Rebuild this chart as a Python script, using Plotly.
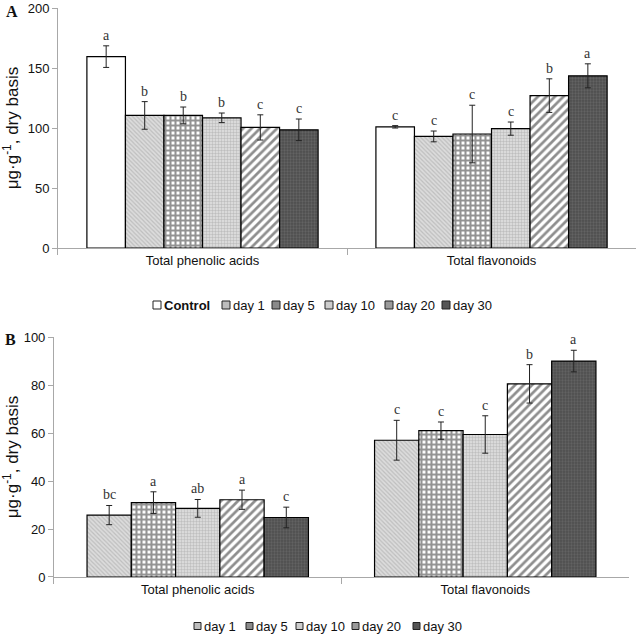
import plotly.graph_objects as go

# ---------------- data ----------------
categories = ["Total phenolic acids", "Total flavonoids"]

# Panel A
a_names = ["Control", "day 1", "day 5", "day 10", "day 20", "day 30"]
a_control = [159.5, 101.0]
a_control_err = [9.0, 1.0]
a_control_lbl = ["a", "c"]
a_day1 = [110.5, 93.0]
a_day1_err = [11.5, 4.5]
a_day1_lbl = ["b", "c"]
a_day5 = [110.5, 95.0]
a_day5_err = [7.0, 24.0]
a_day5_lbl = ["b", "c"]
a_day10 = [108.5, 99.5]
a_day10_err = [4.0, 5.5]
a_day10_lbl = ["b", "c"]
a_day20 = [100.5, 127.0]
a_day20_err = [10.5, 14.0]
a_day20_lbl = ["c", "b"]
a_day30 = [98.5, 143.5]
a_day30_err = [9.0, 10.0]
a_day30_lbl = ["c", "a"]

# Panel B
b_names = ["day 1", "day 5", "day 10", "day 20", "day 30"]
b_day1 = [25.8, 57.0]
b_day1_err = [4.0, 8.3]
b_day1_lbl = ["bc", "c"]
b_day5 = [31.0, 61.0]
b_day5_err = [4.5, 3.6]
b_day5_lbl = ["a", "c"]
b_day10 = [28.6, 59.4]
b_day10_err = [3.7, 7.8]
b_day10_lbl = ["ab", "c"]
b_day20 = [32.2, 80.5]
b_day20_err = [4.0, 8.0]
b_day20_lbl = ["a", "b"]
b_day30 = [24.8, 90.0]
b_day30_err = [4.3, 4.5]
b_day30_lbl = ["c", "a"]

a_vals = [a_control, a_day1, a_day5, a_day10, a_day20, a_day30]
a_errs = [a_control_err, a_day1_err, a_day5_err, a_day10_err, a_day20_err, a_day30_err]
a_lbls = [a_control_lbl, a_day1_lbl, a_day5_lbl, a_day10_lbl, a_day20_lbl, a_day30_lbl]
b_vals = [b_day1, b_day5, b_day10, b_day20, b_day30]
b_errs = [b_day1_err, b_day5_err, b_day10_err, b_day20_err, b_day30_err]
b_lbls = [b_day1_lbl, b_day5_lbl, b_day10_lbl, b_day20_lbl, b_day30_lbl]

# ---------------- styles ----------------
styles = {
    "Control": dict(shape="", bgcolor="white", fgcolor="white", size=6, solidity=0.3, swatch="white"),
    "day 1": dict(shape="\\", bgcolor="#dcdcdc", fgcolor="#a0a0a0", size=3, solidity=0.4, swatch="#bdbdbd"),
    "day 5": dict(shape="+", bgcolor="white", fgcolor="#262626", size=5, solidity=0.65, swatch="#8a8a8a"),
    "day 10": dict(shape=".", bgcolor="#e2e2e2", fgcolor="#9a9a9a", size=3, solidity=0.5, swatch="#cdcdcd"),
    "day 20": dict(shape="/", bgcolor="white", fgcolor="#1e1e1e", size=6, solidity=0.45, swatch="#9a9a9a"),
    "day 30": dict(shape=".", bgcolor="#4d4d4d", fgcolor="#7a7a7a", size=3, solidity=0.45, swatch="#555555"),
}

W, H = 638, 636
FONT = "Liberation Sans, Arial, sans-serif"
SERIF = "Liberation Serif, Times New Roman, serif"

fig = go.Figure()

A_GAP = 0.2
B_GAP = 0.23


def add_panel(names, vals, errs, lbls, xa, ya, gap):
    n = len(names)
    w = (1 - gap) / n
    for i in range(n):
        st = styles[names[i]]
        fig.add_trace(go.Bar(
            x=categories, y=vals[i], name=names[i],
            xaxis=xa, yaxis=ya, showlegend=False,
            width=w, offset=-(1 - gap) / 2 + i * w,
            marker=dict(color=st["bgcolor"],
                        line=dict(color="black", width=1.2),
                        pattern=dict(shape=st["shape"], bgcolor=st["bgcolor"],
                                     fgcolor=st["fgcolor"], size=st["size"],
                                     solidity=st["solidity"])),
            error_y=dict(type="data", array=errs[i], color="#222",
                         thickness=1, width=3),
        ))
        for c in range(len(categories)):
            xpos = c - (1 - gap) / 2 + (i + 0.5) * w
            fig.add_annotation(
                x=xpos, y=vals[i][c] + errs[i][c], xref=xa, yref=ya,
                text=lbls[i][c], showarrow=False, yanchor="bottom", yshift=1,
                font=dict(family=SERIF, size=14, color="#333"))


add_panel(a_names, a_vals, a_errs, a_lbls, "x", "y", A_GAP)
add_panel(b_names, b_vals, b_errs, b_lbls, "x2", "y2", B_GAP)


# ---------------- manual legends ----------------
def add_legend(names, xs_px, y_px, size, bold_first=False):
    for i, nm in enumerate(names):
        x0 = xs_px[i]
        fig.add_shape(type="rect", xref="paper", yref="paper",
                      x0=x0 / W, x1=(x0 + size) / W,
                      y0=1 - (y_px + size / 2) / H, y1=1 - (y_px - size / 2) / H,
                      line=dict(color="#222", width=1),
                      fillcolor=styles[nm]["swatch"])
        txt = "<b>%s</b>" % nm if (bold_first and i == 0) else nm
        fig.add_annotation(x=(x0 + size + 1) / W, y=1 - y_px / H, xref="paper", yref="paper",
                           text=txt, showarrow=False, xanchor="left", yanchor="middle",
                           font=dict(family=FONT, size=13, color="#111"))


legend_top_x = [153, 222, 272, 325, 385, 442]
legend_top_y = 305
legend_bot_x = [194, 246, 296, 352, 413]
legend_bot_y = 626
add_legend(a_names, legend_top_x, legend_top_y, 8, bold_first=True)
add_legend(b_names, legend_bot_x, legend_bot_y, 7)

axis_font = dict(family=FONT, size=13, color="#111")
ytitle = "μg·g<sup>-1</sup>, dry basis"

common_x = dict(type="category", showline=True, linecolor="#a8a8a8", linewidth=1,
                ticks="outside", tickson="boundaries", ticklen=6, tickcolor="#a8a8a8",
                tickfont=axis_font, showgrid=False, zeroline=False, fixedrange=True,
                automargin=False)
common_y = dict(showline=True, linecolor="#a8a8a8", linewidth=1, ticks="outside",
                ticklen=5, tickcolor="#a8a8a8", tickfont=axis_font, showgrid=False,
                zeroline=False, automargin=False, fixedrange=True,
                title=dict(text=ytitle, font=dict(family=FONT, size=17, color="#111"),
                           standoff=6))

fig.update_layout(
    width=W, height=H,
    margin=dict(l=0, r=0, t=0, b=0, autoexpand=False),
    paper_bgcolor="white", plot_bgcolor="white",
    barmode="overlay",
    showlegend=False,
    hovermode=False,
    xaxis=dict(domain=[0.0909, 0.9969], anchor="y", **common_x),
    yaxis=dict(domain=[0.610, 0.9874], anchor="x", range=[0, 200], dtick=50, **common_y),
    xaxis2=dict(domain=[0.0846, 0.9859], anchor="y2", **common_x),
    yaxis2=dict(domain=[0.0928, 0.470], anchor="x2", range=[0, 100], dtick=20, **common_y),
)

fig.add_annotation(x=0.006, y=0.999, xref="paper", yref="paper", text="<b>A</b>",
                   showarrow=False, xanchor="left", yanchor="top",
                   font=dict(family=SERIF, size=16, color="#111"))
fig.add_annotation(x=0.004, y=0.482, xref="paper", yref="paper", text="<b>B</b>",
                   showarrow=False, xanchor="left", yanchor="top",
                   font=dict(family=SERIF, size=16, color="#111"))

fig.write_html("out.html", config={"displayModeBar": False},
               post_script="document.body.style.margin='0';document.body.style.overflow='hidden';")
